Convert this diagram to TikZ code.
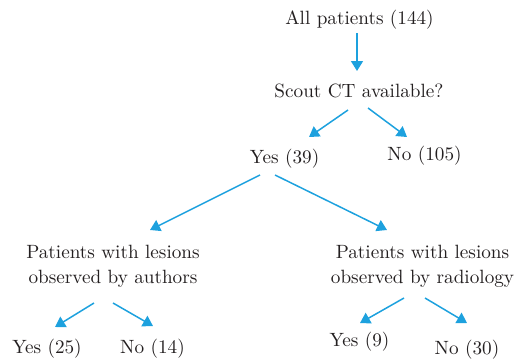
\documentclass[tikz,border=0pt]{standalone}
\usetikzlibrary{arrows.meta, positioning, calc}
\usepackage{xcolor}
\definecolor{arrowblue}{RGB}{29, 161, 222}
\definecolor{inkdark}{RGB}{35, 31, 32}
\tikzset{
  lbl/.style   = {anchor=base, inner sep=0pt, text=inkdark, align=center,
                  font=\fontsize{9.6}{12.5}\selectfont},
  flow/.style  = {-{Triangle[length=5pt, width=6pt]}, line width=0.75pt, arrowblue},
}

\begin{document}
\begin{tikzpicture}[x=0.5pt, y=-0.5pt]

\useasboundingbox (0,0) rectangle (517,360);

% ===================== 顶层 =====================
\node[lbl] (all)   at (359.5, 24) {All patients (144)};
\node[lbl] (scout) at (359,   97) {Scout CT available?};

\draw[flow] ([shift={(-2.5,9)}]all.base) -- ([shift={(-2,-26)}]scout.base);

% ===================== 第二层 =====================
\node[lbl] (yes39)  at (284.5, 163) {Yes (39)};
\node[lbl] (no105)  at (424.5, 160) {No (105)};

\draw[flow] ([shift={(-11,13)}]scout.base) -- ([shift={(24.5,-26)}]yes39.base);
\draw[flow] ([shift={(9,11)}]scout.base)   -- ([shift={(-17.5,-23)}]no105.base);

% ===================== 第三层 (base = 第二行) =====================
\node[lbl] (authors) at (113,   283) {Patients with lesions\\observed by authors};
\node[lbl] (radio)   at (422.5, 283) {Patients with lesions\\observed by radiology};

\draw[flow] ([shift={(-24.5,12)}]yes39.base) -- ([shift={(37,-53)}]authors.base);
\draw[flow] ([shift={(-9.5,12)}]yes39.base)  -- ([shift={(-35.5,-53)}]radio.base);

% ===================== 底层 =====================
\node[lbl] (yes25) at (47,    353) {Yes (25)};
\node[lbl] (no14)  at (152.5, 353) {No (14)};
\node[lbl] (yes9)  at (359.5, 346) {Yes (9)};
\node[lbl] (no30)  at (467,   354) {No (30)};

\draw[flow] ([shift={(-19,20)}]authors.base)  -- ([shift={(8,-26)}]yes25.base);
\draw[flow] ([shift={(0,20)}]authors.base)    -- ([shift={(0.5,-27)}]no14.base);
\draw[flow] ([shift={(-18.5,15)}]radio.base)  -- ([shift={(0.5,-23)}]yes9.base);
\draw[flow] ([shift={(2.5,15)}]radio.base)    -- ([shift={(0,-31)}]no30.base);

\end{tikzpicture}
\end{document}
